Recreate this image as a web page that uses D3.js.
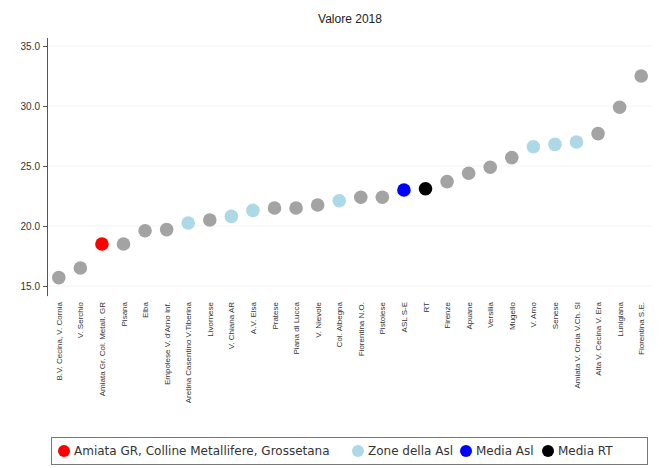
<!DOCTYPE html>
<html><head><meta charset="utf-8">
<script src="https://cdn.jsdelivr.net/npm/d3@7"></script>
<style>body{margin:0;background:#fff;font-family:"Liberation Sans",Arial,sans-serif;}</style>
</head><body><svg id="chart" width="663" height="468"></svg>
<script>
const categories = ["B.V. Cecina, V. Cornia","V. Serchio","Amiata Gr. Col. Metall. GR","Pisana","Elba","Empolese V. d'Arno Inf.","Aretina Casentino V.Tiberina","Livornese","V. Chiana AR","A.V. Elsa","Pratese","Piana di Lucca","V. Nievole","Col. Albegna","Fiorentina N.O.","Pistoiese","ASL S-E","RT","Firenze","Apuane","Versilia","Mugello","V. Arno","Senese","Amiata V. Orcia V.Ch. SI","Alta V. Cecina V. Era","Lunigiana","Fiorentina S.E."];
const values = [15.7,16.5,18.5,18.5,19.6,19.7,20.25,20.5,20.8,21.3,21.5,21.5,21.75,22.1,22.4,22.4,23.0,23.1,23.7,24.4,24.9,25.7,26.6,26.8,27.0,27.7,29.9,32.5];
const groups = ["o","o","r","o","o","o","z","o","z","z","o","o","o","z","o","o","a","t","o","o","o","o","z","z","z","o","o","o"];
const yTicks = [15,20,25,30,35];
const legendLabels = ["Amiata GR, Colline Metallifere, Grossetana","Zone della Asl","Media Asl","Media RT"];
const legendKeys = ["r","z","a","t"];
const colorOf = {o:"#a3a3a3", r:"#ff0000", z:"#add8e6", a:"#0000ff", t:"#000000"};

const svg = d3.select("#chart");
const x = d3.scalePoint().domain(categories).range([48,652]).padding(0.5);
const y = d3.scaleLinear().domain([14.2,35.7]).range([295.6,37.6]);

svg.append("g").selectAll("line").data(yTicks).join("line")
  .attr("x1",48).attr("x2",652).attr("y1",d=>y(d)).attr("y2",d=>y(d))
  .attr("stroke","#f3f3f3");

const yAxis = svg.append("g").attr("transform","translate(47,0)")
  .call(d3.axisLeft(y).tickValues(yTicks).tickFormat(d3.format(".1f")).tickSize(4).tickSizeOuter(0));
yAxis.select(".domain").attr("stroke","#555");
yAxis.selectAll(".tick line").attr("stroke","#555");
yAxis.selectAll("text").attr("font-size",10).attr("fill","#333").attr("font-family","Liberation Sans, Arial, sans-serif");

const xAxis = svg.append("g").attr("transform","translate(0,296)")
  .call(d3.axisBottom(x).tickSize(0));
xAxis.select(".domain").remove();
xAxis.selectAll("text")
  .attr("transform","rotate(-90)")
  .attr("text-anchor","end")
  .attr("x",-6).attr("y",0).attr("dy","0.32em")
  .attr("font-size",8).attr("fill","#333").attr("font-family","Liberation Sans, Arial, sans-serif");

svg.append("g").selectAll("circle").data(categories).join("circle")
  .attr("cx",d=>x(d)).attr("cy",(d,i)=>y(values[i])).attr("r",6.8)
  .attr("fill",(d,i)=>colorOf[groups[i]]);

svg.append("text").attr("x",350).attr("y",23).attr("text-anchor","middle")
  .attr("font-size",12).attr("fill","#222").text("Valore 2018");

const lg = svg.append("g");
lg.append("rect").attr("x",51.5).attr("y",437.5).attr("width",596).attr("height",27)
  .attr("fill","#fff").attr("stroke","#777");
const lx = [64,358,466,548];
legendKeys.forEach((k,i)=>{
  lg.append("circle").attr("cx",lx[i]).attr("cy",451).attr("r",6).attr("fill",colorOf[k]);
  lg.append("text").attr("x",lx[i]+10).attr("y",455).attr("font-size",12)
    .attr("font-family","DejaVu Sans, sans-serif").attr("fill","#333")
    .text(legendLabels[i]);
});
</script></body></html>
